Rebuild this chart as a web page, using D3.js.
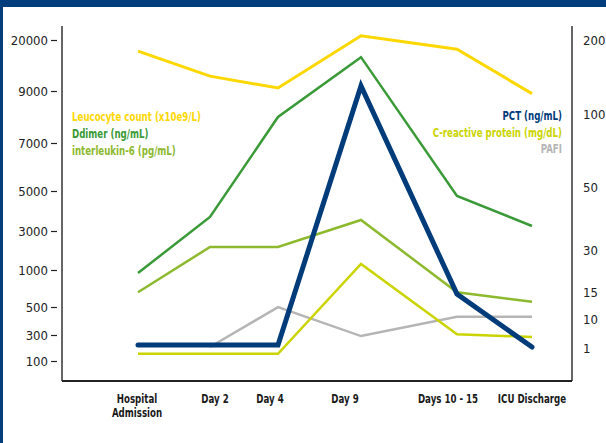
<!DOCTYPE html>
<html>
<head>
<meta charset="utf-8">
<script src="https://cdn.jsdelivr.net/npm/d3@7"></script>
<style>
  body { margin: 0; background: #fff; }
  svg text { font-family: "DejaVu Sans Condensed", "DejaVu Sans", sans-serif; }
</style>
</head>
<body>
<div id="chart"></div>
<script>
// categories along the x axis
const stages = ["Hospital Admission", "Day 2", "Day 4", "Day 9", "Days 10 - 15", "ICU Discharge"];

// left axis series
const leucocyte = [17600, 12200, 9650, 20900, 18000, 8900];
const ddimer = [960, 3700, 8000, 16300, 4750, 3250];
const interleukin = [700, 2180, 2180, 3550, 700, 570];

// right axis series
const pct = [1.9, 1.9, 1.9, 138, 14.6, 1.3];
const crp = [-0.8, -0.8, -0.8, 25, 5.3, 4.4];
const pafi = [null, 1.3, 12.2, 4.7, 10.4, 10.4];

// tick labels
const leftTicks = [100, 300, 500, 1000, 3000, 5000, 7000, 9000, 20000];
const rightTicks = [1, 10, 15, 30, 50, 100, 200];

const W = 606, H = 443;
const axL = 62, axR = 572, axTop = 26, axBottom = 381;
const narrow = 0.77; // squeeze bold labels, the original font is a condensed one

const svg = d3.select("#chart").append("svg")
  .attr("width", W)
  .attr("height", H);

// frame
svg.append("rect").attr("x", 0).attr("y", 0).attr("width", W).attr("height", 7).attr("fill", "#003d7d");
svg.append("rect").attr("x", 0).attr("y", 0).attr("width", 3).attr("height", H).attr("fill", "#003d7d");

// x positions (uneven spacing, so an ordinal scale)
const x = d3.scaleOrdinal().domain(stages).range([138, 210, 278, 361, 457, 532]);
const xLabel = d3.scaleOrdinal().domain(stages).range([137, 215, 270, 345, 448, 532]);

// y scales: the axes are not linear, piecewise between ticks
const yL = d3.scaleLinear()
  .domain(leftTicks)
  .range([361, 335, 307, 270, 231, 191, 143, 91, 40]);
const yR = d3.scaleLinear()
  .domain(rightTicks)
  .range([348, 319, 292, 250, 187, 114, 40]);

// left axis
const gL = svg.append("g")
  .attr("transform", "translate(" + axL + ",0)")
  .call(d3.axisLeft(yL).tickValues(leftTicks).tickSize(0).tickPadding(14).tickFormat(d3.format("d")));
gL.select(".domain").remove();
gL.selectAll(".tick text").attr("font-size", 13).attr("fill", "#222");
gL.selectAll(".tick").append("line")
  .attr("x1", -11).attr("x2", -5)
  .attr("stroke", "#222").attr("stroke-width", 1.2);

// right axis
const gR = svg.append("g")
  .attr("transform", "translate(" + axR + ",0)")
  .call(d3.axisRight(yR).tickValues(rightTicks).tickSize(0).tickPadding(11));
gR.select(".domain").remove();
gR.selectAll(".tick text").attr("font-size", 13).attr("fill", "#222");

// axis lines
svg.append("line").attr("x1", axL).attr("x2", axL).attr("y1", axTop).attr("y2", axBottom)
  .attr("stroke", "#333").attr("stroke-width", 1.5);
svg.append("line").attr("x1", axR).attr("x2", axR).attr("y1", axTop).attr("y2", axBottom)
  .attr("stroke", "#333").attr("stroke-width", 1.5);
svg.append("line").attr("x1", axL).attr("x2", axR).attr("y1", axBottom).attr("y2", axBottom)
  .attr("stroke", "#222").attr("stroke-width", 2);

// condensed bold text helper
function label(g, tx, ty, anchor, color, size) {
  return g.append("text")
    .attr("transform", "translate(" + tx + "," + ty + ") scale(" + narrow + ",1)")
    .attr("text-anchor", anchor)
    .attr("font-size", size)
    .attr("font-weight", "bold")
    .attr("fill", color);
}

// x labels
const xl = svg.append("g");
stages.forEach(function(s) {
  const t = label(xl, xLabel(s), 403, "middle", "#1a1a1a", 12.5);
  if (s === "Hospital Admission") {
    t.append("tspan").attr("x", 0).text("Hospital");
    t.append("tspan").attr("x", 0).attr("dy", 14).text("Admission");
  } else {
    t.text(s);
  }
});

// lines
const series = [
  { name: "PAFI", values: pafi, y: yR, color: "#b5b5b5", w: 2.5 },
  { name: "C-reactive protein", values: crp, y: yR, color: "#cad400", w: 2.5 },
  { name: "interleukin-6", values: interleukin, y: yL, color: "#8db92e", w: 2.5 },
  { name: "Ddimer", values: ddimer, y: yL, color: "#3a9a37", w: 2.5 },
  { name: "Leucocyte count", values: leucocyte, y: yL, color: "#fdd700", w: 3 },
  { name: "PCT", values: pct, y: yR, color: "#003b7a", w: 5 }
];

series.forEach(function(s) {
  const line = d3.line()
    .defined(function(d) { return d.v !== null; })
    .x(function(d) { return x(d.stage); })
    .y(function(d) { return s.y(d.v); });
  svg.append("path")
    .datum(stages.map(function(st, i) { return { stage: st, v: s.values[i] }; }))
    .attr("fill", "none")
    .attr("stroke", s.color)
    .attr("stroke-width", s.w)
    .attr("stroke-linejoin", "miter")
    .attr("stroke-linecap", s.name === "PCT" ? "round" : "butt")
    .attr("d", line);
});

// legends
const legLeft = [
  { t: "Leucocyte count (x10e9/L)", c: "#fdd700" },
  { t: "Ddimer (ng/mL)", c: "#3a9a37" },
  { t: "interleukin-6 (pg/mL)", c: "#8db92e" }
];
const legRight = [
  { t: "PCT (ng/mL)", c: "#003b7a" },
  { t: "C-reactive protein (mg/dL)", c: "#cad400" },
  { t: "PAFI", c: "#b5b5b5" }
];
const lg = svg.append("g");
legLeft.forEach(function(d, i) {
  label(lg, 72, 121 + i * 17, "start", d.c, 12.5).text(d.t);
});
legRight.forEach(function(d, i) {
  label(lg, 562, 120 + i * 16.5, "end", d.c, 12.5).text(d.t);
});
</script>
</body>
</html>
